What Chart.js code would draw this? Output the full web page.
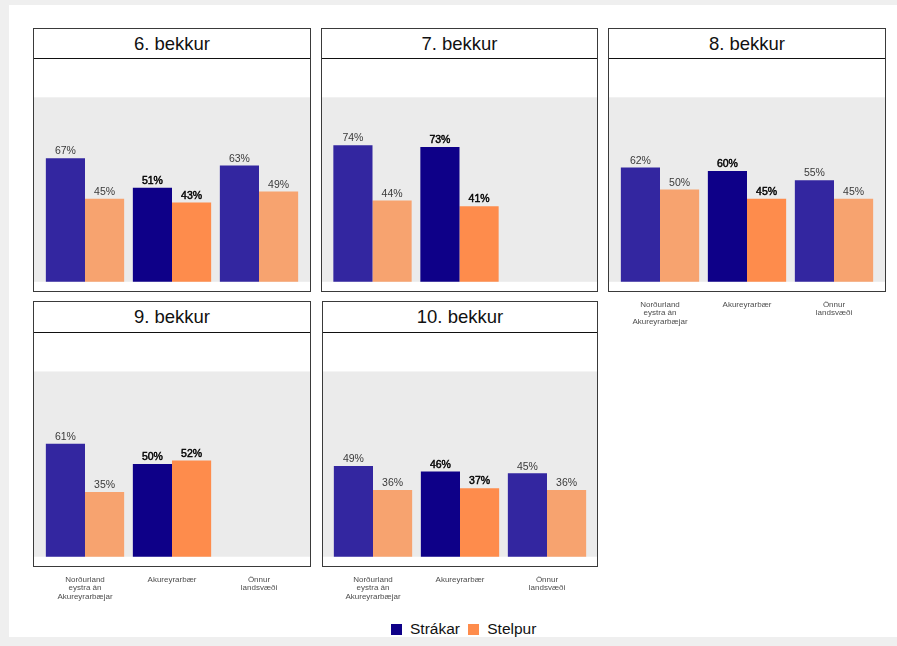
<!DOCTYPE html>
<html>
<head>
<meta charset="utf-8">
<script src="https://cdn.jsdelivr.net/npm/chart.js@4.4.1/dist/chart.umd.min.js"></script>
<style>
body { margin: 0; background: #efefef; font-family: 'Liberation Sans', Arial, sans-serif; }
#page { position: absolute; left: 9px; top: 5px; width: 888px; height: 632px; background: #fff; }
.panel { position: absolute; border: 1px solid #3a3a3a; box-sizing: border-box; background: #fff; }
.strip { position: absolute; left: 0; right: 0; top: 0; border-bottom: 1.5px solid #111;
         text-align: center; font-size: 18.5px; color: #111; }
.plot { position: absolute; }
#legend { position: absolute; left: 391px; top: 620px; font-size: 15.5px; color: #111; white-space: nowrap; }
#legend span.box { display: inline-block; width: 11px; height: 11px; vertical-align: -1px; margin-right: 8px; }
</style>
</head>
<body>
<div id="page"></div>
<div id="legend">
  <span class="box" style="background:#0e0088"></span>Strákar
  <span class="box" style="background:#fe8c4c;margin-left:4px"></span>Stelpur
</div>
<script>
const grades = ['6. bekkur', '7. bekkur', '8. bekkur', '9. bekkur', '10. bekkur'];
const regions = [['Norðurland', 'eystra án', 'Akureyrarbæjar'], 'Akureyrarbær', ['Önnur', 'landsvæði']];

// one row per grade, order as in regions
const strakar = [
    [67, 51, 63],
    [74, 73, null],
    [62, 60, 55],
    [61, 50, null],
    [49, 46, 45]
];
const stelpur = [
    [45, 43, 49],
    [44, 41, null],
    [50, 45, 45],
    [35, 52, null],
    [36, 37, 36]
];

const navy = ['#3326a0', '#0e0088', '#3326a0'];
const orange = ['#f7a36f', '#fe8c4c', '#f7a36f'];

// where each facet sits on the page
const layout = [
    { left: 33,  top: 28,  w: 278, strip: 29, plot: 233, labels: false },
    { left: 321, top: 28,  w: 277, strip: 29, plot: 233, labels: false },
    { left: 608, top: 28,  w: 278, strip: 29, plot: 233, labels: true },
    { left: 33,  top: 301, w: 278, strip: 30, plot: 234, labels: true },
    { left: 322, top: 301, w: 276, strip: 30, plot: 234, labels: true }
];

const greyBand = {
    id: 'greyBand',
    beforeDatasetsDraw(chart) {
        const y = chart.scales.y;
        const top = y.getPixelForValue(100);
        const bottom = y.getPixelForValue(0);
        const ctx = chart.ctx;
        ctx.save();
        ctx.fillStyle = '#ebebeb';
        ctx.fillRect(1, top, chart.width - 2, bottom - top);
        ctx.restore();
    }
};

const valueLabels = {
    id: 'valueLabels',
    afterDatasetsDraw(chart) {
        const ctx = chart.ctx;
        ctx.save();
        ctx.textAlign = 'center';
        ctx.textBaseline = 'bottom';
        ctx.font = '10.5px "Liberation Sans", Arial, sans-serif';
        chart.data.datasets.forEach((ds, di) => {
            chart.getDatasetMeta(di).data.forEach((bar, i) => {
                const v = ds.data[i];
                if (v === null) return;
                const strong = i === 1;
                ctx.fillStyle = strong ? '#000' : '#3a3a3a';
                ctx.fillText(v + '%', bar.x, bar.y - 1.5);
                if (strong) {
                    // Akureyrarbær labels are a touch heavier
                    ctx.strokeStyle = '#000';
                    ctx.lineWidth = 0.45;
                    ctx.strokeText(v + '%', bar.x, bar.y - 1.5);
                }
            });
        });
        ctx.restore();
    }
};

const page = document.body;
grades.forEach((grade, g) => {
    const L = layout[g];
    const panel = document.createElement('div');
    panel.className = 'panel';
    Object.assign(panel.style, {
        left: L.left + 'px', top: L.top + 'px',
        width: L.w + 'px', height: (L.strip + L.plot + 2) + 'px'
    });
    const strip = document.createElement('div');
    strip.className = 'strip';
    strip.style.height = L.strip + 'px';
    strip.style.lineHeight = L.strip + 'px';
    strip.textContent = grade;
    panel.appendChild(strip);
    page.appendChild(panel);

    const extra = L.labels ? 46 : 0;
    const canvas = document.createElement('canvas');
    canvas.className = 'plot';
    canvas.width = L.w;
    canvas.height = L.plot + extra;
    Object.assign(canvas.style, {
        left: L.left + 'px', top: (L.top + L.strip + 1) + 'px',
        width: L.w + 'px', height: (L.plot + extra) + 'px'
    });
    page.appendChild(canvas);

    const pad = (L.w - 261) / 2;
    new Chart(canvas, {
        type: 'bar',
        data: {
            labels: regions,
            datasets: [
                { label: 'Strákar', data: strakar[g], backgroundColor: navy },
                { label: 'Stelpur', data: stelpur[g], backgroundColor: orange }
            ]
        },
        options: {
            responsive: false,
            animation: false,
            layout: { padding: { left: pad, right: pad, top: 0, bottom: 0 } },
            categoryPercentage: 0.9,
            barPercentage: 1.0,
            scales: {
                x: {
                    display: L.labels,
                    grid: { display: false, drawTicks: false },
                    border: { display: false },
                    ticks: {
                        padding: 9,
                        maxRotation: 0,
                        autoSkip: false,
                        color: '#4d4d4d',
                        font: { size: 8, family: "'Liberation Sans', Arial, sans-serif", lineHeight: 1.1 }
                    },
                    afterFit: s => { s.height = extra; }
                },
                y: { display: false, min: -5, max: 121.3 }
            },
            plugins: {
                legend: { display: false },
                tooltip: { enabled: false }
            }
        },
        plugins: [greyBand, valueLabels]
    });
});
</script>
</body>
</html>
